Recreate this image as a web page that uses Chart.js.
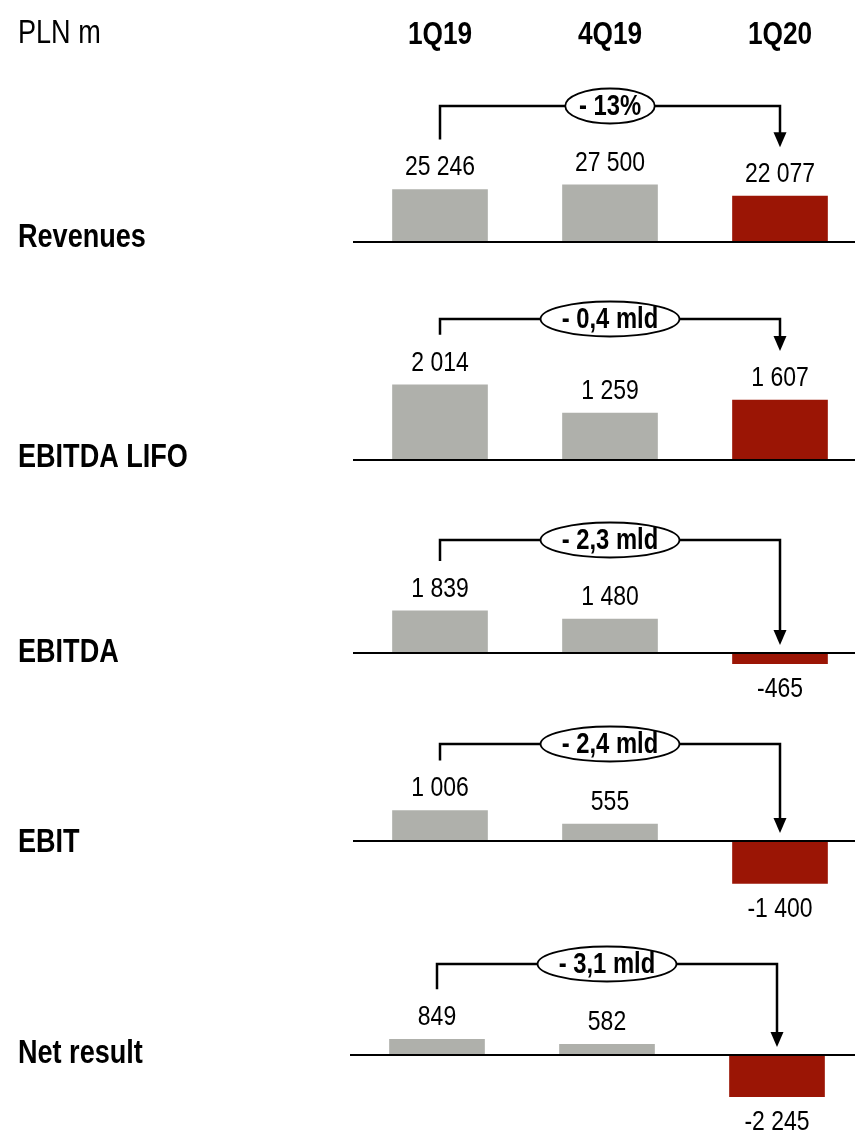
<!DOCTYPE html>
<html>
<head>
<meta charset="utf-8">
<script src="https://cdn.jsdelivr.net/npm/chart.js@4.4.1/dist/chart.umd.min.js"></script>
<style>
  html, body { margin: 0; padding: 0; background: #fff; }
  #wrap { position: relative; width: 855px; height: 1130px; overflow: hidden; }
  #wrap canvas { position: absolute; }
</style>
</head>
<body>
<div id="wrap"></div>
<script>
// dane z wykresu (PLN m)
const unitLabel = 'PLN m';
const categories = ['1Q19', '4Q19', '1Q20'];
const metrics = ['Revenues', 'EBITDA LIFO', 'EBITDA', 'EBIT', 'Net result'];
const revenues = [25246, 27500, 22077];
const ebitdaLifo = [2014, 1259, 1607];
const ebitda = [1839, 1480, -465];
const ebit = [1006, 555, -1400];
const netResult = [849, 582, -2245];
const changeLabels = ['- 13%', '- 0,4 mld', '- 2,3 mld', '- 2,4 mld', '- 3,1 mld'];

const series = [revenues, ebitdaLifo, ebitda, ebit, netResult];

// rozmieszczenie paneli: top/height canvasa, linia klamry, oś zero, jednostek na piksel
const layout = [
  { top: 0,   height: 290, bracket: 106, base: 242, k: 482,  dx: 0,  labelY: 247 },
  { top: 280, height: 200, bracket: 319, base: 460, k: 26.8, dx: 0,  labelY: 467 },
  { top: 480, height: 235, bracket: 540, base: 653, k: 43.7, dx: 0,  labelY: 662 },
  { top: 715, height: 210, bracket: 744, base: 841, k: 33,   dx: 0,  labelY: 852 },
  { top: 925, height: 205, bracket: 964, base: 1055, k: 54,  dx: -3, labelY: 1063 }
];

const GRAY = 'rgb(175,176,171)';
const RED = 'rgb(155,21,5)';
const FONT = '"Liberation Sans", Arial, sans-serif';
const NARROW = 0.82; // Arial Narrow ~ Arial * 0.82

function fmt(v){
  const s = Math.abs(v).toString().replace(/\B(?=(\d{3})+(?!\d))/g, ' ');
  return (v < 0 ? '-' : '') + s;
}

function txt(ctx, s, x, y, size, bold, align, baseline){
  ctx.save();
  ctx.font = (bold ? 'bold ' : '') + size + 'px ' + FONT;
  ctx.translate(x, y);
  ctx.scale(NARROW, 1);
  ctx.textAlign = align || 'center';
  ctx.textBaseline = baseline || 'middle';
  ctx.fillStyle = '#000';
  ctx.fillText(s, 0, 0);
  const w = ctx.measureText(s).width * NARROW;
  ctx.restore();
  return w;
}

function textWidth(ctx, s, size, bold){
  ctx.save();
  ctx.font = (bold ? 'bold ' : '') + size + 'px ' + FONT;
  const w = ctx.measureText(s).width * NARROW;
  ctx.restore();
  return w;
}

function panelPlugin(idx){
  return {
    id: 'panel' + idx,
    afterDraw(chart){
      const ctx = chart.ctx;
      const area = chart.chartArea;
      const bars = chart.getDatasetMeta(0).data;
      const vals = series[idx];
      const y0 = chart.scales.y.getPixelForValue(0);
      const L = layout[idx];

      // header (tylko pierwszy panel)
      if(idx === 0){
        txt(ctx, unitLabel, 18, 43, 33, false, 'left', 'alphabetic');
        bars.forEach((b, i) => txt(ctx, categories[i], b.x, 44, 32, true, 'center', 'alphabetic'));
      }

      // oś zero
      ctx.save();
      ctx.strokeStyle = '#000';
      ctx.lineWidth = 2;
      ctx.beginPath();
      ctx.moveTo(area.left - 2, y0);
      ctx.lineTo(855, y0);
      ctx.stroke();
      ctx.restore();

      // nazwa panelu
      txt(ctx, metrics[idx], 18, L.labelY - L.top, 33, true, 'left', 'alphabetic');

      // etykiety wartości
      const labelY = [];
      bars.forEach((b, i) => {
        const ly = vals[i] >= 0 ? b.y - 22 : b.y + 26;
        labelY.push(ly);
        txt(ctx, fmt(vals[i]), b.x, ly, 28, false, 'center', 'middle');
      });

      // klamra ze strzałką
      const xl = bars[0].x, xr = bars[2].x;
      const yt = area.top;
      const foot = labelY[0] - 28;
      const tip = vals[2] >= 0 ? labelY[2] - 27 : y0 - 8;
      ctx.save();
      ctx.strokeStyle = '#000';
      ctx.lineWidth = 2.5;
      ctx.beginPath();
      ctx.moveTo(xl, foot);
      ctx.lineTo(xl, yt);
      ctx.lineTo(xr, yt);
      ctx.lineTo(xr, tip - 14);
      ctx.stroke();
      ctx.fillStyle = '#000';
      ctx.beginPath();
      ctx.moveTo(xr - 6.5, tip - 15);
      ctx.lineTo(xr + 6.5, tip - 15);
      ctx.lineTo(xr, tip);
      ctx.closePath();
      ctx.fill();

      // elipsa z opisem zmiany
      const cx = (xl + xr) / 2;
      const tw = textWidth(ctx, changeLabels[idx], 29, true);
      const rx = tw * 0.72, ry = 17.5;
      ctx.beginPath();
      ctx.ellipse(cx, yt, rx, ry, 0, 0, Math.PI * 2);
      ctx.fillStyle = '#fff';
      ctx.fill();
      ctx.lineWidth = 1.8;
      ctx.stroke();
      ctx.restore();
      txt(ctx, changeLabels[idx], cx, yt + 1, 29, true, 'center', 'middle');
    }
  };
}

function load(){
  const wrap = document.getElementById('wrap');
  layout.forEach((L, idx) => {
    const c = document.createElement('canvas');
    const w = 865 + L.dx;
    c.width = w;
    c.height = L.height;
    c.style.left = '0px';
    c.style.top = L.top + 'px';
    c.style.width = w + 'px';
    c.style.height = L.height + 'px';
    wrap.appendChild(c);

    const vals = series[idx];
    new Chart(c, {
      type: 'bar',
      data: {
        labels: categories,
        datasets: [{
          data: vals,
          backgroundColor: vals.map((v, i) => i === 2 ? RED : GRAY),
          borderWidth: 0,
          barThickness: 95
        }]
      },
      options: {
        responsive: false,
        animation: false,
        devicePixelRatio: 1,
        layout: { padding: { top: L.bracket - L.top, left: 355 + L.dx, right: 0, bottom: 0 } },
        plugins: { legend: { display: false }, tooltip: { enabled: false } },
        scales: {
          x: { display: false },
          y: {
            display: false,
            min: -(L.top + L.height - L.base) * L.k,
            max: (L.base - L.bracket) * L.k
          }
        }
      },
      plugins: [panelPlugin(idx)]
    });
  });
}

window.onload = (event) => {
  load();
};
</script>
</body>
</html>
